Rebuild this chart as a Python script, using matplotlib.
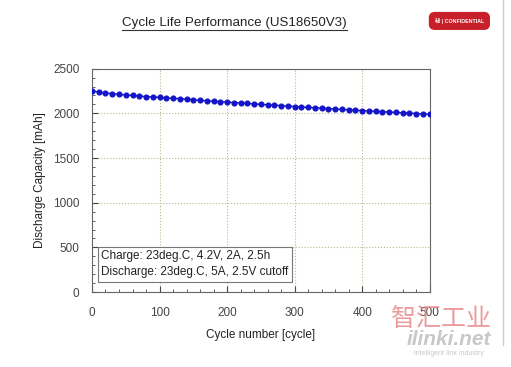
import numpy as np
import matplotlib
matplotlib.use("Agg")
import matplotlib.pyplot as plt
from matplotlib.lines import Line2D
from matplotlib.ticker import MultipleLocator

plt.rcParams['font.family'] = ['Liberation Sans', 'Noto Sans CJK SC', 'DejaVu Sans']

# cycle number and discharge capacity (every 10 cycles)
cycles = list(range(0, 501, 10))
capacity = [2250, 2238, 2228, 2220, 2212, 2205, 2200, 2193, 2188, 2183,
            2178, 2172, 2168, 2163, 2157, 2152, 2146, 2140, 2135, 2130,
            2125, 2120, 2116, 2110, 2106, 2100, 2096, 2091, 2086, 2081,
            2076, 2072, 2067, 2063, 2058, 2053, 2049, 2044, 2040, 2035,
            2030, 2026, 2022, 2018, 2014, 2010, 2006, 2002, 1998, 1995,
            1991]
x_ticks = [0, 100, 200, 300, 400, 500]
y_ticks = [0, 500, 1000, 1500, 2000, 2500]

title = "Cycle Life Performance (US18650V3)"
note = "Charge: 23deg.C, 4.2V, 2A, 2.5h\nDischarge: 23deg.C, 5A, 2.5V cutoff"

fig = plt.figure(figsize=(5.11, 3.67), dpi=100)
ax = fig.add_axes([0.180, 0.204, 0.661, 0.609])

ax.plot(cycles, capacity, color='#1414c8', lw=1, marker='o', ms=3.4,
        mec='#1414c8', mfc='#1414c8', zorder=3)

ax.set_xlim(0, 500)
ax.set_ylim(0, 2500)
ax.set_xticks(x_ticks)
ax.set_yticks(y_ticks)
ax.xaxis.set_minor_locator(MultipleLocator(20))
ax.yaxis.set_minor_locator(MultipleLocator(100))
ax.tick_params(which='both', direction='in', labelsize=8.5, colors='#444444')
ax.tick_params(which='major', length=4)
ax.tick_params(axis='x', which='major', pad=11)
ax.tick_params(axis='y', which='major', pad=9)
ax.tick_params(which='minor', length=2)
ax.grid(True, which='major', ls=':', lw=0.8, color='#b8b890')
for s in ax.spines.values():
    s.set_color('#666666')
    s.set_linewidth(0.8)

ax.set_xlabel("Cycle number [cycle]", fontsize=8.5, color='#222222', labelpad=7)
ax.set_ylabel("Discharge Capacity [mAh]", fontsize=8.5, color='#222222', labelpad=5)

ax.text(0.027, 0.125, note, transform=ax.transAxes, fontsize=8.5, va='center',
        linespacing=1.45, color='#222222',
        bbox=dict(boxstyle='square,pad=0.3', fc='white', ec='#777777', lw=0.8))

# underlined title
fig.text(0.458, 0.938, title, ha='center', va='center', fontsize=9.6, color='#222222')
fig.add_artist(Line2D([0.238, 0.679], [0.918, 0.918], color='#333333', lw=0.8))

# confidential badge
fig.text(0.899, 0.943, "秘 | CONFIDENTIAL", ha='center', va='center', fontsize=3.8,
         color='white', fontweight='bold',
         bbox=dict(boxstyle='round,pad=1.0', fc='#c8202a', ec='#c8202a'))

# right frame line
fig.add_artist(Line2D([0.985, 0.985], [0.06, 1.0], color='#cccccc', lw=1))

# watermark
fig.text(0.863, 0.132, "智汇工业", ha='center', va='center', fontsize=18,
         color='#e88a8a', alpha=0.85)
fig.text(0.879, 0.074, "ilinki.net", ha='center', va='center', fontsize=15,
         color='#bbbbbb', style='italic', fontweight='bold', alpha=0.8)
fig.text(0.879, 0.038, "intelligent link industry", ha='center', va='center',
         fontsize=5, color='#c8c8c8')

fig.savefig("out.png", dpi=100)
